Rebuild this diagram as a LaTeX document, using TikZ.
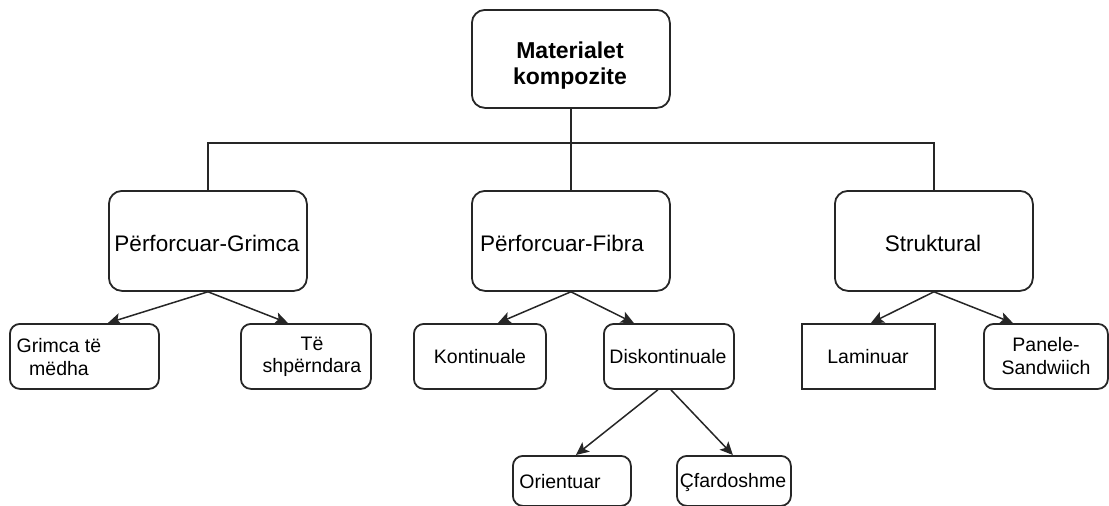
\documentclass[tikz,border=0pt]{standalone}
\usepackage{fontspec}
\setmainfont{Liberation Sans}
\usetikzlibrary{arrows.meta}
\tikzset{
  box/.style={draw=black!85, line width=1.8pt, rounded corners=#1, inner sep=0pt, anchor=north west},
  box/.default=10pt,
  sq/.style={draw=black!85, line width=1.8pt, inner sep=0pt, anchor=north west},
  lbl/.style={inner sep=0pt, align=center},
  conn/.style={draw=black!85, line width=1.5pt},
  arr/.style={conn, -{Stealth[length=13pt,width=12pt,inset=3pt]}},
  big/.style={font=\fontsize{22.5}{27}\selectfont},
  small/.style={font=\fontsize{19.5}{22.5}\selectfont},
}
\begin{document}
\begin{tikzpicture}[x=1pt,y=-1pt]
\useasboundingbox (0,0) rectangle (1109,506);
% boxes
\node[box=13pt, minimum width=198pt, minimum height=98pt] (top) at (471,9) {};
\node[box=13pt, minimum width=198pt, minimum height=100pt] (pg) at (108,190) {};
\node[box=13pt, minimum width=198pt, minimum height=100pt] (pf) at (471,190) {};
\node[box=13pt, minimum width=198pt, minimum height=100pt] (st) at (834,190) {};
\node[box, minimum width=149pt, minimum height=65pt] (c1) at (9,323) {};
\node[box, minimum width=130pt, minimum height=65pt] (c2) at (240,323) {};
\node[box, minimum width=132pt, minimum height=65pt] (k) at (413,323) {};
\node[box, minimum width=130pt, minimum height=65pt] (d) at (603,323) {};
\node[sq, minimum width=133pt, minimum height=65pt] (l) at (801,323) {};
\node[box, minimum width=124pt, minimum height=65pt] (p) at (983,323) {};
\node[box, minimum width=118pt, minimum height=50pt] (o) at (512,455) {};
\node[box, minimum width=114pt, minimum height=50pt] (cf) at (676,455) {};
% labels
\node[lbl, font=\fontsize{23}{26}\selectfont\bfseries] (ttop) at (570,66) {Materialet\\kompozite};
\node[lbl, big] (tpg) at (207,243) {Përforcuar-Grimca};
\node[lbl, big] (tpf) at (562,243) {Përforcuar-Fibra};
\node[lbl, big] (tst) at (933,243) {Struktural};
\node[lbl, small] (tc1) at (59,357) {Grimca të\\mëdha};
\node[lbl, small] (tc2) at (312,357) {Të\\shpërndara};
\node[lbl, small] (tk) at (480,357) {Kontinuale};
\node[lbl, small] (td) at (668,357) {Diskontinuale};
\node[lbl, small] (tl) at (868,357) {Laminuar};
\node[lbl, small] (tp) at (1046,356) {Panele-\\Sandwiich};
\node[lbl, small] (to) at (560,482) {Orientuar};
\node[lbl, small] (tcf) at (733,482) {Çfardoshme};
% tree connectors
\coordinate (bus) at (570,143);
\draw[conn] (top.south) -- (pf.north);
\draw[conn] (pg.north) |- (bus) -| (st.north);
% arrows
\draw[arr] (pg.south) -- ([xshift=23.5pt]c1.north);
\draw[arr] (pg.south) -- ([xshift=-18pt]c2.north);
\draw[arr] (pf.south) -- ([xshift=18pt]k.north);
\draw[arr] (pf.south) -- ([xshift=-35pt]d.north);
\draw[arr] (st.south) -- ([xshift=2.5pt]l.north);
\draw[arr] (st.south) -- ([xshift=-33pt]p.north);
\draw[arr] ([xshift=-11pt]d.south) -- ([xshift=4pt]o.north);
\draw[arr] ([xshift=2pt]d.south) -- ([xshift=-1pt]cf.north);
\end{tikzpicture}
\end{document}
